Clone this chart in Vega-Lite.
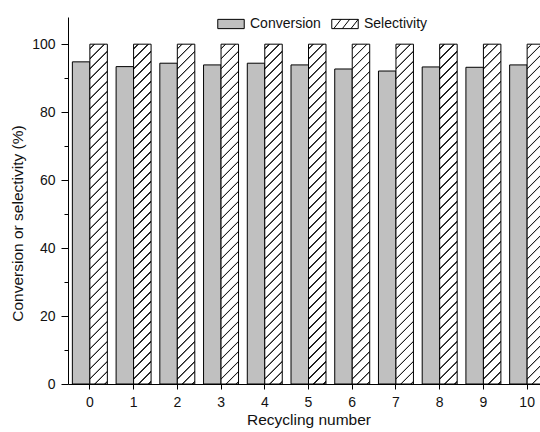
{
  "$schema": "https://vega.github.io/schema/vega-lite/v6.json",
  "width": 481,
  "height": 367,
  "autosize": {"type": "none"},
  "padding": {"left": 68, "top": 17, "right": 0, "bottom": 48},
  "background": "white",
  "config": {
    "view": {"stroke": null},
    "font": "Liberation Sans",
    "axis": {"labelFont": "Liberation Sans", "titleFont": "Liberation Sans", "labelColor": "#111", "titleColor": "#111", "domainColor": "#000", "tickColor": "#000", "grid": false, "titleFontWeight": "normal"},
    "legend": {
      "labelFont": "Liberation Sans",
      "orient": "none",
      "direction": "horizontal",
      "legendX": 149,
      "legendY": -7,
      "symbolSize": 700,
      "symbolStrokeWidth": 1,
      "symbolOpacity": 1,
      "labelFontSize": 14,
      "labelColor": "#111",
      "labelOffset": 5,
      "columnPadding": 8
    }
  },
  "data": {
    "values": [
      {"cycle": 0, "series": "Conversion", "value": 94.8},
      {"cycle": 1, "series": "Conversion", "value": 93.4},
      {"cycle": 2, "series": "Conversion", "value": 94.4},
      {"cycle": 3, "series": "Conversion", "value": 93.9},
      {"cycle": 4, "series": "Conversion", "value": 94.4},
      {"cycle": 5, "series": "Conversion", "value": 93.9},
      {"cycle": 6, "series": "Conversion", "value": 92.7},
      {"cycle": 7, "series": "Conversion", "value": 92.1},
      {"cycle": 8, "series": "Conversion", "value": 93.3},
      {"cycle": 9, "series": "Conversion", "value": 93.2},
      {"cycle": 10, "series": "Conversion", "value": 93.9},
      {"cycle": 0, "series": "Selectivity", "value": 100},
      {"cycle": 1, "series": "Selectivity", "value": 100},
      {"cycle": 2, "series": "Selectivity", "value": 100},
      {"cycle": 3, "series": "Selectivity", "value": 100},
      {"cycle": 4, "series": "Selectivity", "value": 100},
      {"cycle": 5, "series": "Selectivity", "value": 100},
      {"cycle": 6, "series": "Selectivity", "value": 100},
      {"cycle": 7, "series": "Selectivity", "value": 100},
      {"cycle": 8, "series": "Selectivity", "value": 100},
      {"cycle": 9, "series": "Selectivity", "value": 100},
      {"cycle": 10, "series": "Selectivity", "value": 100}
    ]
  },
  "encoding": {
    "x": {
      "field": "cycle",
      "type": "ordinal",
      "scale": {"paddingInner": 0.2, "paddingOuter": 0.1},
      "axis": {"title": "Recycling number", "titleFontSize": 15.5, "titlePadding": 3, "labelAngle": 0, "labelFontSize": 14, "tickSize": 5, "labelPadding": 6}
    },
    "xOffset": {"field": "series", "type": "nominal", "scale": {"domain": ["Conversion", "Selectivity"], "paddingInner": 0}},
    "y": {
      "field": "value",
      "type": "quantitative",
      "scale": {"domain": [0, 108], "nice": false},
      "axis": {
        "title": "Conversion or selectivity (%)",
        "titleFontSize": 15.5,
        "titlePadding": 6,
        "titleY": 206,
        "labelFontSize": 14,
        "labelPadding": 6,
        "values": [0, 10, 20, 30, 40, 50, 60, 70, 80, 90, 100],
        "labelExpr": "datum.value % 20 === 0 ? datum.label : ''",
        "tickSize": {"condition": {"test": "datum.value % 20 === 0", "value": 7}, "value": 4}
      }
    }
  },
  "layer": [
    {
      "mark": {"type": "bar", "strokeWidth": 1},
      "encoding": {
        "stroke": {
          "field": "series",
          "type": "nominal",
          "scale": {"domain": ["Conversion", "Selectivity"], "range": ["#000000", "#000000"]},
          "legend": {"title": null}
        },
        "fill": {
          "field": "series",
          "type": "nominal",
          "scale": {"domain": ["Conversion", "Selectivity"], "range": ["#c0c0c0", "#ffffff"]},
          "legend": {"title": null},
          "condition": {
            "test": "datum.series === 'Selectivity'",
            "value": {
              "gradient": "linear", "x1": 0, "y1": 0, "x2": 0.054, "y2": 1.0487,
              "stops": [
                {"offset": 0, "color": "#ffffff"},
                {"offset": 0.010, "color": "#ffffff"}, {"offset": 0.0115, "color": "#222222"}, {"offset": 0.0145, "color": "#222222"}, {"offset": 0.016, "color": "#ffffff"},
                {"offset": 0.038, "color": "#ffffff"}, {"offset": 0.0395, "color": "#222222"}, {"offset": 0.0425, "color": "#222222"}, {"offset": 0.044, "color": "#ffffff"},
                {"offset": 0.066, "color": "#ffffff"}, {"offset": 0.0675, "color": "#222222"}, {"offset": 0.0705, "color": "#222222"}, {"offset": 0.072, "color": "#ffffff"},
                {"offset": 0.094, "color": "#ffffff"}, {"offset": 0.0955, "color": "#222222"}, {"offset": 0.0985, "color": "#222222"}, {"offset": 0.100, "color": "#ffffff"},
                {"offset": 0.122, "color": "#ffffff"}, {"offset": 0.1235, "color": "#222222"}, {"offset": 0.1265, "color": "#222222"}, {"offset": 0.128, "color": "#ffffff"},
                {"offset": 0.150, "color": "#ffffff"}, {"offset": 0.1515, "color": "#222222"}, {"offset": 0.1545, "color": "#222222"}, {"offset": 0.156, "color": "#ffffff"},
                {"offset": 0.178, "color": "#ffffff"}, {"offset": 0.1795, "color": "#222222"}, {"offset": 0.1825, "color": "#222222"}, {"offset": 0.184, "color": "#ffffff"},
                {"offset": 0.206, "color": "#ffffff"}, {"offset": 0.2075, "color": "#222222"}, {"offset": 0.2105, "color": "#222222"}, {"offset": 0.212, "color": "#ffffff"},
                {"offset": 0.234, "color": "#ffffff"}, {"offset": 0.2355, "color": "#222222"}, {"offset": 0.2385, "color": "#222222"}, {"offset": 0.240, "color": "#ffffff"},
                {"offset": 0.262, "color": "#ffffff"}, {"offset": 0.2635, "color": "#222222"}, {"offset": 0.2665, "color": "#222222"}, {"offset": 0.268, "color": "#ffffff"},
                {"offset": 0.290, "color": "#ffffff"}, {"offset": 0.2915, "color": "#222222"}, {"offset": 0.2945, "color": "#222222"}, {"offset": 0.296, "color": "#ffffff"},
                {"offset": 0.318, "color": "#ffffff"}, {"offset": 0.3195, "color": "#222222"}, {"offset": 0.3225, "color": "#222222"}, {"offset": 0.324, "color": "#ffffff"},
                {"offset": 0.346, "color": "#ffffff"}, {"offset": 0.3475, "color": "#222222"}, {"offset": 0.3505, "color": "#222222"}, {"offset": 0.352, "color": "#ffffff"},
                {"offset": 0.374, "color": "#ffffff"}, {"offset": 0.3755, "color": "#222222"}, {"offset": 0.3785, "color": "#222222"}, {"offset": 0.380, "color": "#ffffff"},
                {"offset": 0.402, "color": "#ffffff"}, {"offset": 0.4035, "color": "#222222"}, {"offset": 0.4065, "color": "#222222"}, {"offset": 0.408, "color": "#ffffff"},
                {"offset": 0.430, "color": "#ffffff"}, {"offset": 0.4315, "color": "#222222"}, {"offset": 0.4345, "color": "#222222"}, {"offset": 0.436, "color": "#ffffff"},
                {"offset": 0.458, "color": "#ffffff"}, {"offset": 0.4595, "color": "#222222"}, {"offset": 0.4625, "color": "#222222"}, {"offset": 0.464, "color": "#ffffff"},
                {"offset": 0.486, "color": "#ffffff"}, {"offset": 0.4875, "color": "#222222"}, {"offset": 0.4905, "color": "#222222"}, {"offset": 0.492, "color": "#ffffff"},
                {"offset": 0.514, "color": "#ffffff"}, {"offset": 0.5155, "color": "#222222"}, {"offset": 0.5185, "color": "#222222"}, {"offset": 0.520, "color": "#ffffff"},
                {"offset": 0.542, "color": "#ffffff"}, {"offset": 0.5435, "color": "#222222"}, {"offset": 0.5465, "color": "#222222"}, {"offset": 0.548, "color": "#ffffff"},
                {"offset": 0.570, "color": "#ffffff"}, {"offset": 0.5715, "color": "#222222"}, {"offset": 0.5745, "color": "#222222"}, {"offset": 0.576, "color": "#ffffff"},
                {"offset": 0.598, "color": "#ffffff"}, {"offset": 0.5995, "color": "#222222"}, {"offset": 0.6025, "color": "#222222"}, {"offset": 0.604, "color": "#ffffff"},
                {"offset": 0.626, "color": "#ffffff"}, {"offset": 0.6275, "color": "#222222"}, {"offset": 0.6305, "color": "#222222"}, {"offset": 0.632, "color": "#ffffff"},
                {"offset": 0.654, "color": "#ffffff"}, {"offset": 0.6555, "color": "#222222"}, {"offset": 0.6585, "color": "#222222"}, {"offset": 0.660, "color": "#ffffff"},
                {"offset": 0.682, "color": "#ffffff"}, {"offset": 0.6835, "color": "#222222"}, {"offset": 0.6865, "color": "#222222"}, {"offset": 0.688, "color": "#ffffff"},
                {"offset": 0.710, "color": "#ffffff"}, {"offset": 0.7115, "color": "#222222"}, {"offset": 0.7145, "color": "#222222"}, {"offset": 0.716, "color": "#ffffff"},
                {"offset": 0.738, "color": "#ffffff"}, {"offset": 0.7395, "color": "#222222"}, {"offset": 0.7425, "color": "#222222"}, {"offset": 0.744, "color": "#ffffff"},
                {"offset": 0.766, "color": "#ffffff"}, {"offset": 0.7675, "color": "#222222"}, {"offset": 0.7705, "color": "#222222"}, {"offset": 0.772, "color": "#ffffff"},
                {"offset": 0.794, "color": "#ffffff"}, {"offset": 0.7955, "color": "#222222"}, {"offset": 0.7985, "color": "#222222"}, {"offset": 0.800, "color": "#ffffff"},
                {"offset": 0.822, "color": "#ffffff"}, {"offset": 0.8235, "color": "#222222"}, {"offset": 0.8265, "color": "#222222"}, {"offset": 0.828, "color": "#ffffff"},
                {"offset": 0.850, "color": "#ffffff"}, {"offset": 0.8515, "color": "#222222"}, {"offset": 0.8545, "color": "#222222"}, {"offset": 0.856, "color": "#ffffff"},
                {"offset": 0.878, "color": "#ffffff"}, {"offset": 0.8795, "color": "#222222"}, {"offset": 0.8825, "color": "#222222"}, {"offset": 0.884, "color": "#ffffff"},
                {"offset": 0.906, "color": "#ffffff"}, {"offset": 0.9075, "color": "#222222"}, {"offset": 0.9105, "color": "#222222"}, {"offset": 0.912, "color": "#ffffff"},
                {"offset": 0.934, "color": "#ffffff"}, {"offset": 0.9355, "color": "#222222"}, {"offset": 0.9385, "color": "#222222"}, {"offset": 0.940, "color": "#ffffff"},
                {"offset": 0.962, "color": "#ffffff"}, {"offset": 0.9635, "color": "#222222"}, {"offset": 0.9665, "color": "#222222"}, {"offset": 0.968, "color": "#ffffff"},
                {"offset": 0.990, "color": "#ffffff"}, {"offset": 0.9915, "color": "#222222"}, {"offset": 0.9945, "color": "#222222"}, {"offset": 0.996, "color": "#ffffff"},
                {"offset": 1, "color": "#ffffff"}
              ]
            }
          }
        }
      }
    },
    {
      "transform": [{"filter": "false"}],
      "mark": {"type": "point", "filled": true, "opacity": 1},
      "encoding": {
        "shape": {
          "field": "series",
          "type": "nominal",
          "scale": {
            "domain": ["Conversion", "Selectivity"],
            "range": [
              "M-1,-0.35H1V0.35H-1Z",
              "M-1,-0.35H1V0.35H-1Z M-0.85,0.35L-0.3,-0.35 M-0.2,0.35L0.35,-0.35 M0.45,0.35L1,-0.35"
            ]
          },
          "legend": {"title": null}
        }
      }
    }
  ]
}
